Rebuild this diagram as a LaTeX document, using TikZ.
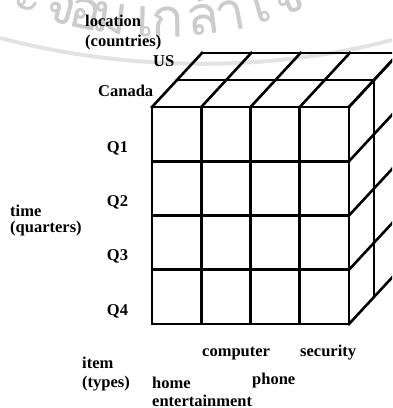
\documentclass[tikz,border=0pt]{standalone}
\usepackage{fontspec}
\setmainfont{Liberation Serif}
\newfontfamily\thaifont[Script=Thai]{Loma}
\begin{document}
\begin{tikzpicture}[x=1pt,y=-1pt,
  gridline/.style={line width=2.6pt, line cap=rect, line join=miter},
  lbl/.style={font=\fontsize{16.5}{18}\selectfont\bfseries, inner sep=0pt, anchor=base west},
  qlbl/.style={lbl, anchor=base},
  wm/.style={font=\thaifont\fontsize{54}{60}\selectfont, text=black!20, inner sep=0pt, anchor=base},
  wmband/.style={draw=black!11, line width=4pt}]
\useasboundingbox (0,0) rectangle (392,408);
\clip (0,0) rectangle (392,408);
% watermark
\draw[wmband] (0,38) .. controls (130,72) and (270,72) .. (392,40);
\node[wm, rotate=-20.5] (w1) at (24,12) {ะ};
\node[wm, rotate=-15.7] (w2) at (57,22.8) {จ};
\node[wm, rotate=-11.8] (w3) at (82,28.9) {อ};
\node[wm, rotate=-7.9] (w4) at (108,33.4) {ม};
\node[wm, rotate=-2.3] (w5) at (145,36.7) {เ};
\node[wm, rotate=0.9] (w6) at (168,37) {ก};
\node[wm, rotate=6.8] (w7) at (205,34.3) {ล้};
\node[wm, rotate=10.8] (w8) at (233,30.3) {า};
\node[wm, rotate=16] (w9) at (265,22.2) {เ};
\node[wm, rotate=20.5] (w10) at (293,13) {จ้};
% cube
\def\cw{49.25}
\def\rh{54.25}
\foreach \i in {0,...,4} \draw[gridline] (152+\i*\cw,107) -- (152+\i*\cw,324);
\foreach \j in {0,...,4} \draw[gridline] (152,107+\j*\rh) -- (349,107+\j*\rh);
\foreach \k in {1,2} \draw[gridline] (152+\k*25,107-\k*27) -- (349+\k*25,107-\k*27);
\foreach \i in {0,...,4} \draw[gridline] (152+\i*\cw,107) -- ++(50,-54);
\foreach \k in {1,2} \draw[gridline] (349+\k*25,107-\k*27) -- (349+\k*25,324-\k*27);
\foreach \j in {0,...,4} \draw[gridline] (349,107+\j*\rh) -- ++(50,-54);
% labels
\node[lbl] (loc) at (85,26) {location};
\node[lbl] (locc) at (85,46) {(countries)};
\node[lbl] (us) at (153,66) {US};
\node[lbl] (ca) at (98,96) {Canada};
\node[qlbl] (q1) at (117.5,152) {Q1};
\node[qlbl] (q2) at (117.5,206) {Q2};
\node[qlbl] (q3) at (117.5,260.5) {Q3};
\node[qlbl] (q4) at (117.5,315) {Q4};
\node[lbl] (time) at (10,216) {time};
\node[lbl] (timeq) at (10,232) {(quarters)};
\node[lbl] (item) at (82,368) {item};
\node[lbl] (itemt) at (82,387) {(types)};
\node[lbl] (comp) at (202,356) {computer};
\node[lbl] (sec) at (300,356) {security};
\node[lbl] (home) at (152,388) {home};
\node[lbl] (ent) at (152,406) {entertainment};
\node[lbl] (phone) at (252,384) {phone};
\end{tikzpicture}
\end{document}
